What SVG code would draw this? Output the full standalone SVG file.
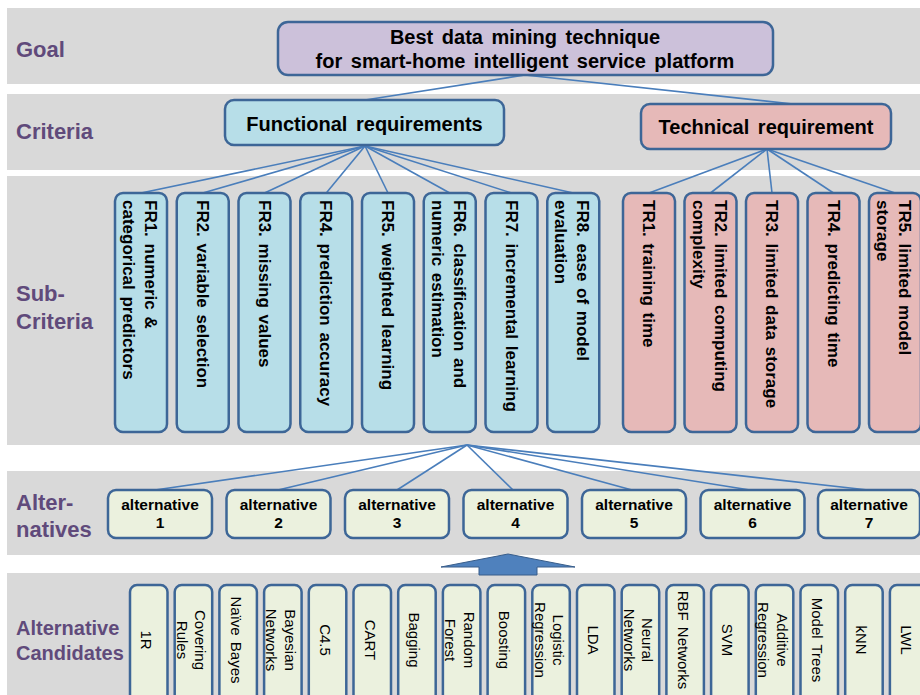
<svg xmlns="http://www.w3.org/2000/svg" width="920" height="695" viewBox="0 0 920 695">
<style>
.band{fill:#d9d9d9}
.lbl{font-family:"Liberation Sans",Arial,sans-serif;font-weight:bold;font-size:22px;fill:#604a7b}
.box{stroke:#3d6697;stroke-width:2.5}
.goal{fill:#ccc1da}
.fr{fill:#b7dee8}
.tr{fill:#e6b9b8}
.alt{fill:#ebf1de}
.t20{font-family:"Liberation Sans",Arial,sans-serif;font-weight:bold;font-size:20px;word-spacing:3px;fill:#000;text-anchor:middle}
.t17{font-family:"Liberation Sans",Arial,sans-serif;font-weight:bold;font-size:17px;word-spacing:2px;fill:#000}
.t15b{font-family:"Liberation Sans",Arial,sans-serif;font-weight:bold;font-size:15.5px;fill:#000;text-anchor:middle}
.t15{font-family:"Liberation Sans",Arial,sans-serif;font-size:15px;word-spacing:2px;fill:#000;text-anchor:middle}
.ln{stroke:#4a7ebb;stroke-width:1.6;fill:none}
</style>
<rect width="920" height="695" fill="#ffffff"/>
<g id="bands">
<rect class="band" x="7" y="8" width="913" height="76"/>
<rect class="band" x="7" y="94" width="913" height="76"/>
<rect class="band" x="7" y="176" width="913" height="269"/>
<rect class="band" x="7" y="471" width="913" height="84"/>
<rect class="band" x="7" y="573" width="913" height="122"/>
</g>
<g id="labels">
<text class="lbl" x="16" y="57">Goal</text>
<text class="lbl" x="16" y="139">Criteria</text>
<text class="lbl" x="16" y="301">Sub-</text>
<text class="lbl" x="16" y="329">Criteria</text>
<text class="lbl" x="16" y="510">Alter-</text>
<text class="lbl" x="16" y="537">natives</text>
<text class="lbl" x="16" y="635" style="font-size:20px">Alternative</text>
<text class="lbl" x="16" y="660" style="font-size:20px">Candidates</text>
</g>
<g id="connectors">
<line class="ln" x1="525" y1="75" x2="365" y2="100"/>
<line class="ln" x1="525" y1="75" x2="793" y2="104"/>
<line class="ln" x1="365" y1="146" x2="141" y2="193"/>
<line class="ln" x1="365" y1="146" x2="202.75" y2="193"/>
<line class="ln" x1="365" y1="146" x2="264.5" y2="193"/>
<line class="ln" x1="365" y1="146" x2="326.25" y2="193"/>
<line class="ln" x1="365" y1="146" x2="388" y2="193"/>
<line class="ln" x1="365" y1="146" x2="449.75" y2="193"/>
<line class="ln" x1="365" y1="146" x2="511.5" y2="193"/>
<line class="ln" x1="365" y1="146" x2="573.25" y2="193"/>
<line class="ln" x1="767" y1="149" x2="649" y2="193"/>
<line class="ln" x1="767" y1="149" x2="710.5" y2="193"/>
<line class="ln" x1="767" y1="149" x2="772" y2="193"/>
<line class="ln" x1="767" y1="149" x2="833.5" y2="193"/>
<line class="ln" x1="767" y1="149" x2="895" y2="193"/>
<line class="ln" x1="467" y1="445" x2="155" y2="490"/>
<line class="ln" x1="467" y1="445" x2="278" y2="490"/>
<line class="ln" x1="467" y1="445" x2="397" y2="490"/>
<line class="ln" x1="467" y1="445" x2="513" y2="490"/>
<line class="ln" x1="467" y1="445" x2="632" y2="490"/>
<line class="ln" x1="467" y1="445" x2="750" y2="490"/>
<line class="ln" x1="467" y1="445" x2="868" y2="490"/>
<polygon points="508,554 575,567 537,567 537,575 479,575 479,567 441,567" fill="#4f81bd" stroke="#385d8a" stroke-width="1"/>
</g>
<g id="goal">
<rect class="box goal" x="278" y="22" width="495" height="53" rx="10"/>
<text class="t20" x="525" y="44">Best data mining technique</text>
<text class="t20" x="525" y="68">for smart-home intelligent service platform</text>
</g>
<g id="functional">
<rect class="box fr" x="225" y="100" width="279" height="45" rx="9"/>
<text class="t20" x="364.5" y="131">Functional requirements</text>
</g>
<g id="technical">
<rect class="box tr" x="641" y="104" width="250" height="45" rx="9"/>
<text class="t20" x="766" y="134">Technical requirement</text>
</g>
<g id="FR1"><rect class="box fr" x="115" y="193" width="52" height="239" rx="8"/>
<text class="t17" transform="translate(141,200) rotate(90)"><tspan x="0" y="-4">FR1. numeric &amp;</tspan><tspan x="0" y="18">categorical predictors</tspan></text></g>
<g id="FR2"><rect class="box fr" x="176.75" y="193" width="52" height="239" rx="8"/>
<text class="t17" transform="translate(202.75,200) rotate(90)" y="6">FR2. variable selection</text></g>
<g id="FR3"><rect class="box fr" x="238.5" y="193" width="52" height="239" rx="8"/>
<text class="t17" transform="translate(264.5,200) rotate(90)" y="6">FR3. missing values</text></g>
<g id="FR4"><rect class="box fr" x="300.25" y="193" width="52" height="239" rx="8"/>
<text class="t17" transform="translate(326.25,200) rotate(90)" y="6">FR4. prediction accuracy</text></g>
<g id="FR5"><rect class="box fr" x="362" y="193" width="52" height="239" rx="8"/>
<text class="t17" transform="translate(388,200) rotate(90)" y="6">FR5. weighted learning</text></g>
<g id="FR6"><rect class="box fr" x="423.75" y="193" width="52" height="239" rx="8"/>
<text class="t17" transform="translate(449.75,200) rotate(90)"><tspan x="0" y="-4">FR6. classification and</tspan><tspan x="0" y="18">numeric estimation</tspan></text></g>
<g id="FR7"><rect class="box fr" x="485.5" y="193" width="52" height="239" rx="8"/>
<text class="t17" transform="translate(511.5,200) rotate(90)" y="6">FR7. incremental learning</text></g>
<g id="FR8"><rect class="box fr" x="547.25" y="193" width="52" height="239" rx="8"/>
<text class="t17" transform="translate(573.25,200) rotate(90)"><tspan x="0" y="-4">FR8. ease of model</tspan><tspan x="0" y="18">evaluation</tspan></text></g>
<g id="TR1"><rect class="box tr" x="623" y="193" width="52" height="239" rx="8"/>
<text class="t17" transform="translate(649,200) rotate(90)" y="6">TR1. training time</text></g>
<g id="TR2"><rect class="box tr" x="684.5" y="193" width="52" height="239" rx="8"/>
<text class="t17" transform="translate(710.5,200) rotate(90)"><tspan x="0" y="-4">TR2. limited computing</tspan><tspan x="0" y="18">complexity</tspan></text></g>
<g id="TR3"><rect class="box tr" x="746" y="193" width="52" height="239" rx="8"/>
<text class="t17" transform="translate(772,200) rotate(90)" y="6">TR3. limited data storage</text></g>
<g id="TR4"><rect class="box tr" x="807.5" y="193" width="52" height="239" rx="8"/>
<text class="t17" transform="translate(833.5,200) rotate(90)" y="6">TR4. predicting time</text></g>
<g id="TR5"><rect class="box tr" x="869" y="193" width="52" height="239" rx="8"/>
<text class="t17" transform="translate(895,200) rotate(90)"><tspan x="0" y="-4">TR5. limited model</tspan><tspan x="0" y="18">storage</tspan></text></g>
<g id="alt1"><rect class="box alt" x="108" y="490" width="104" height="48" rx="8"/><text class="t15b" x="160" y="510">alternative</text><text class="t15b" x="160" y="528">1</text></g>
<g id="alt2"><rect class="box alt" x="226.5" y="490" width="104" height="48" rx="8"/><text class="t15b" x="278.5" y="510">alternative</text><text class="t15b" x="278.5" y="528">2</text></g>
<g id="alt3"><rect class="box alt" x="345" y="490" width="104" height="48" rx="8"/><text class="t15b" x="397" y="510">alternative</text><text class="t15b" x="397" y="528">3</text></g>
<g id="alt4"><rect class="box alt" x="463.5" y="490" width="104" height="48" rx="8"/><text class="t15b" x="515.5" y="510">alternative</text><text class="t15b" x="515.5" y="528">4</text></g>
<g id="alt5"><rect class="box alt" x="582" y="490" width="104" height="48" rx="8"/><text class="t15b" x="634" y="510">alternative</text><text class="t15b" x="634" y="528">5</text></g>
<g id="alt6"><rect class="box alt" x="700.5" y="490" width="104" height="48" rx="8"/><text class="t15b" x="752.5" y="510">alternative</text><text class="t15b" x="752.5" y="528">6</text></g>
<g id="alt7"><rect class="box alt" x="818" y="490" width="102" height="48" rx="8"/><text class="t15b" x="869" y="510">alternative</text><text class="t15b" x="869" y="528">7</text></g>
<g id="c1"><rect class="box alt" x="130" y="585" width="37.5" height="120" rx="7"/><text class="t15" transform="translate(148.75,640) rotate(90)" y="7.5">1R</text></g>
<g id="c2"><rect class="box alt" x="174.7" y="585" width="37.5" height="120" rx="7"/><text class="t15" transform="translate(193.45,640) rotate(90)"><tspan x="0" y="-2">Covering</tspan><tspan x="0" y="16.5">Rules</tspan></text></g>
<g id="c3"><rect class="box alt" x="219.4" y="585" width="37.5" height="120" rx="7"/><text class="t15" transform="translate(238.15,640) rotate(90)" y="7.5">Naïve Bayes</text></g>
<g id="c4"><rect class="box alt" x="264.1" y="585" width="37.5" height="120" rx="7"/><text class="t15" transform="translate(282.85,640) rotate(90)"><tspan x="0" y="-2">Bayesian</tspan><tspan x="0" y="16.5">Networks</tspan></text></g>
<g id="c5"><rect class="box alt" x="308.8" y="585" width="37.5" height="120" rx="7"/><text class="t15" transform="translate(327.55,640) rotate(90)" y="7.5">C4.5</text></g>
<g id="c6"><rect class="box alt" x="353.5" y="585" width="37.5" height="120" rx="7"/><text class="t15" transform="translate(372.25,640) rotate(90)" y="7.5">CART</text></g>
<g id="c7"><rect class="box alt" x="398.2" y="585" width="37.5" height="120" rx="7"/><text class="t15" transform="translate(416.95,640) rotate(90)" y="7.5">Bagging</text></g>
<g id="c8"><rect class="box alt" x="442.9" y="585" width="37.5" height="120" rx="7"/><text class="t15" transform="translate(461.65,640) rotate(90)"><tspan x="0" y="-2">Random</tspan><tspan x="0" y="16.5">Forest</tspan></text></g>
<g id="c9"><rect class="box alt" x="487.6" y="585" width="37.5" height="120" rx="7"/><text class="t15" transform="translate(506.35,640) rotate(90)" y="7.5">Boosting</text></g>
<g id="c10"><rect class="box alt" x="532.3" y="585" width="37.5" height="120" rx="7"/><text class="t15" transform="translate(551.05,640) rotate(90)"><tspan x="0" y="-2">Logistic</tspan><tspan x="0" y="16.5">Regression</tspan></text></g>
<g id="c11"><rect class="box alt" x="577" y="585" width="37.5" height="120" rx="7"/><text class="t15" transform="translate(595.75,640) rotate(90)" y="7.5">LDA</text></g>
<g id="c12"><rect class="box alt" x="621.7" y="585" width="37.5" height="120" rx="7"/><text class="t15" transform="translate(640.45,640) rotate(90)"><tspan x="0" y="-2">Neural</tspan><tspan x="0" y="16.5">Networks</tspan></text></g>
<g id="c13"><rect class="box alt" x="666.4" y="585" width="37.5" height="120" rx="7"/><text class="t15" transform="translate(685.15,640) rotate(90)" y="7.5">RBF Networks</text></g>
<g id="c14"><rect class="box alt" x="711.1" y="585" width="37.5" height="120" rx="7"/><text class="t15" transform="translate(729.85,640) rotate(90)" y="7.5">SVM</text></g>
<g id="c15"><rect class="box alt" x="755.8" y="585" width="37.5" height="120" rx="7"/><text class="t15" transform="translate(774.55,640) rotate(90)"><tspan x="0" y="-2">Additive</tspan><tspan x="0" y="16.5">Regression</tspan></text></g>
<g id="c16"><rect class="box alt" x="800.5" y="585" width="37.5" height="120" rx="7"/><text class="t15" transform="translate(819.25,640) rotate(90)" y="7.5">Model Trees</text></g>
<g id="c17"><rect class="box alt" x="845.2" y="585" width="37.5" height="120" rx="7"/><text class="t15" transform="translate(863.95,640) rotate(90)" y="7.5">kNN</text></g>
<g id="c18"><rect class="box alt" x="889.9" y="585" width="37.5" height="120" rx="7"/><text class="t15" transform="translate(908.65,640) rotate(90)" y="7.5">LWL</text></g>
</svg>
